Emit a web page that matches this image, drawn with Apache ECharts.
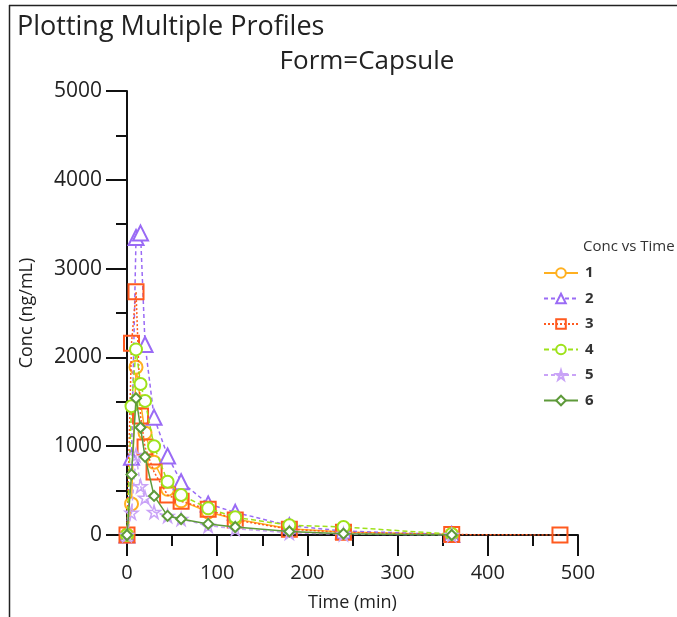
<!DOCTYPE html>
<html>
<head>
<meta charset="utf-8">
<script src="https://cdn.jsdelivr.net/npm/echarts@6/dist/echarts.min.js"></script>
<style>
html,body{margin:0;padding:0;background:#fff;}
#chart{width:677px;height:617px;}
</style>
</head>
<body>
<div id="chart"></div>
<script>
const times = [0, 5, 10, 15, 20, 30, 45, 60, 90, 120, 180, 240, 360, 480];
const seriesNames = ['1', '2', '3', '4', '5', '6'];
const conc1 = [0, 350, 1890, 1500, 1150, 820, 515, 385, 260, 180, 70, 35, 5, null];
const conc2 = [0, 875, 3350, 3400, 2145, 1325, 890, 600, 350, 255, 105, 45, 5, null];
const conc3 = [0, 2160, 2740, 1340, 990, 710, 450, 380, 290, 170, 65, 30, 5, 0];
const conc4 = [0, 1450, 2090, 1700, 1510, 1000, 600, 450, 300, 200, 110, 90, 10, null];
const conc5 = [0, 250, 900, 550, 420, 260, 215, 180, 105, 70, 25, 10, 0, null];
const conc6 = [0, 680, 1540, 1210, 880, 440, 215, 180, 125, 90, 40, 15, 0, null];
const yTicks = [0, 1000, 2000, 3000, 4000, 5000];
const xTicks = [0, 100, 200, 300, 400, 500];

const allConc = [conc1, conc2, conc3, conc4, conc5, conc6];
const colors = ['#FFB020', '#9A6BF5', '#FF5A1F', '#9EE21A', '#C9A3F7', '#5E9A3A'];
const symbols = ['emptyCircle', 'emptyTriangle', 'rect', 'emptyCircle', 'path://M50,0 L61,35 L98,35 L68,57 L79,91 L50,70 L21,91 L32,57 L2,35 L39,35 Z', 'emptyDiamond'];
const symbolSizes = [13, 15, 15, 12, 13, 10];
const lineTypes = ['solid', [4, 3], [2, 2], [5, 3], [4, 3], 'solid'];

const fontFam = '"Open Sans", "Noto Sans", sans-serif';

const series = allConc.map((arr, i) => ({
  name: seriesNames[i],
  type: 'line',
  data: times.map((t, j) => [t, arr[j]]).filter(p => p[1] !== null),
  symbol: symbols[i],
  symbolSize: symbolSizes[i],
  lineStyle: { color: colors[i], width: 1.5, type: lineTypes[i] },
  itemStyle: i === 2 ? { color: 'rgba(255,255,255,0)', borderColor: colors[i], borderWidth: 2 } :
             i === 4 ? { color: 'rgba(255,255,255,0)', borderColor: colors[i], borderWidth: 1.5 } :
             { color: colors[i], borderColor: colors[i], borderWidth: 1.5 },
  emphasis: { disabled: true },
  z: 2 + i
}));

const chart = echarts.init(document.getElementById('chart'), null, { renderer: 'canvas' });
chart.setOption({
  animation: false,
  backgroundColor: '#fff',
  textStyle: { fontFamily: fontFam },
  title: [
    { text: 'Plotting Multiple Profiles', left: 12, top: 9,
      textStyle: { fontFamily: fontFam, fontSize: 27, fontWeight: 'normal', color: '#222' } },
    { text: 'Form=Capsule', left: 362, top: 44, textAlign: 'center',
      textStyle: { fontFamily: fontFam, fontSize: 26, fontWeight: 'normal', color: '#222' } }
  ],
  grid: { left: 127, right: 99, top: 91, bottom: 81, containLabel: false },
  legend: {
    orient: 'vertical', left: 538, top: 260,
    itemWidth: 34, itemHeight: 12, itemGap: 9.5,
    data: seriesNames,
    textStyle: { fontFamily: fontFam, fontSize: 15, color: '#333', fontWeight: 'bold', lineHeight: 16, padding: [0, 0, 0, 2] }
  },
  graphic: [
    { type: 'line', shape: { x1: 9.5, y1: 5, x2: 9.5, y2: 617 }, style: { stroke: '#222', lineWidth: 1.5 } },
    { type: 'line', shape: { x1: 9, y1: 5.5, x2: 677, y2: 5.5 }, style: { stroke: '#222', lineWidth: 1.5 } },
    { type: 'text', left: 583, top: 239, style: { text: 'Conc vs Time', font: '15px ' + fontFam, fill: '#333' } }
  ],
  xAxis: {
    type: 'value', min: xTicks[0], max: xTicks[xTicks.length - 1], interval: 100,
    name: 'Time (min)', nameLocation: 'middle', nameGap: 59,
    nameTextStyle: { fontFamily: fontFam, fontSize: 18, color: '#222' },
    axisLine: { onZero: false, lineStyle: { color: '#111', width: 2 } },
    axisTick: { show: true, length: 21, lineStyle: { color: '#111', width: 2 } },
    minorTick: { show: true, splitNumber: 2, length: 11, lineStyle: { color: '#111', width: 2 } },
    splitLine: { show: false },
    axisLabel: { margin: 28, fontFamily: fontFam, fontSize: 20, color: '#222' }
  },
  yAxis: {
    type: 'value', min: yTicks[0], max: yTicks[yTicks.length - 1], interval: 1000,
    name: 'Conc (ng/mL)', nameLocation: 'middle', nameGap: 91,
    nameTextStyle: { fontFamily: fontFam, fontSize: 18, color: '#222' },
    axisLine: { show: true, onZero: false, lineStyle: { color: '#111', width: 2 } },
    axisTick: { show: true, length: 21, lineStyle: { color: '#111', width: 2 } },
    minorTick: { show: true, splitNumber: 2, length: 11, lineStyle: { color: '#111', width: 2 } },
    splitLine: { show: false },
    axisLabel: { margin: 25, fontFamily: fontFam, fontSize: 21, color: '#222', formatter: v => String(v) }
  },
  series: series
});
</script>
</body>
</html>
